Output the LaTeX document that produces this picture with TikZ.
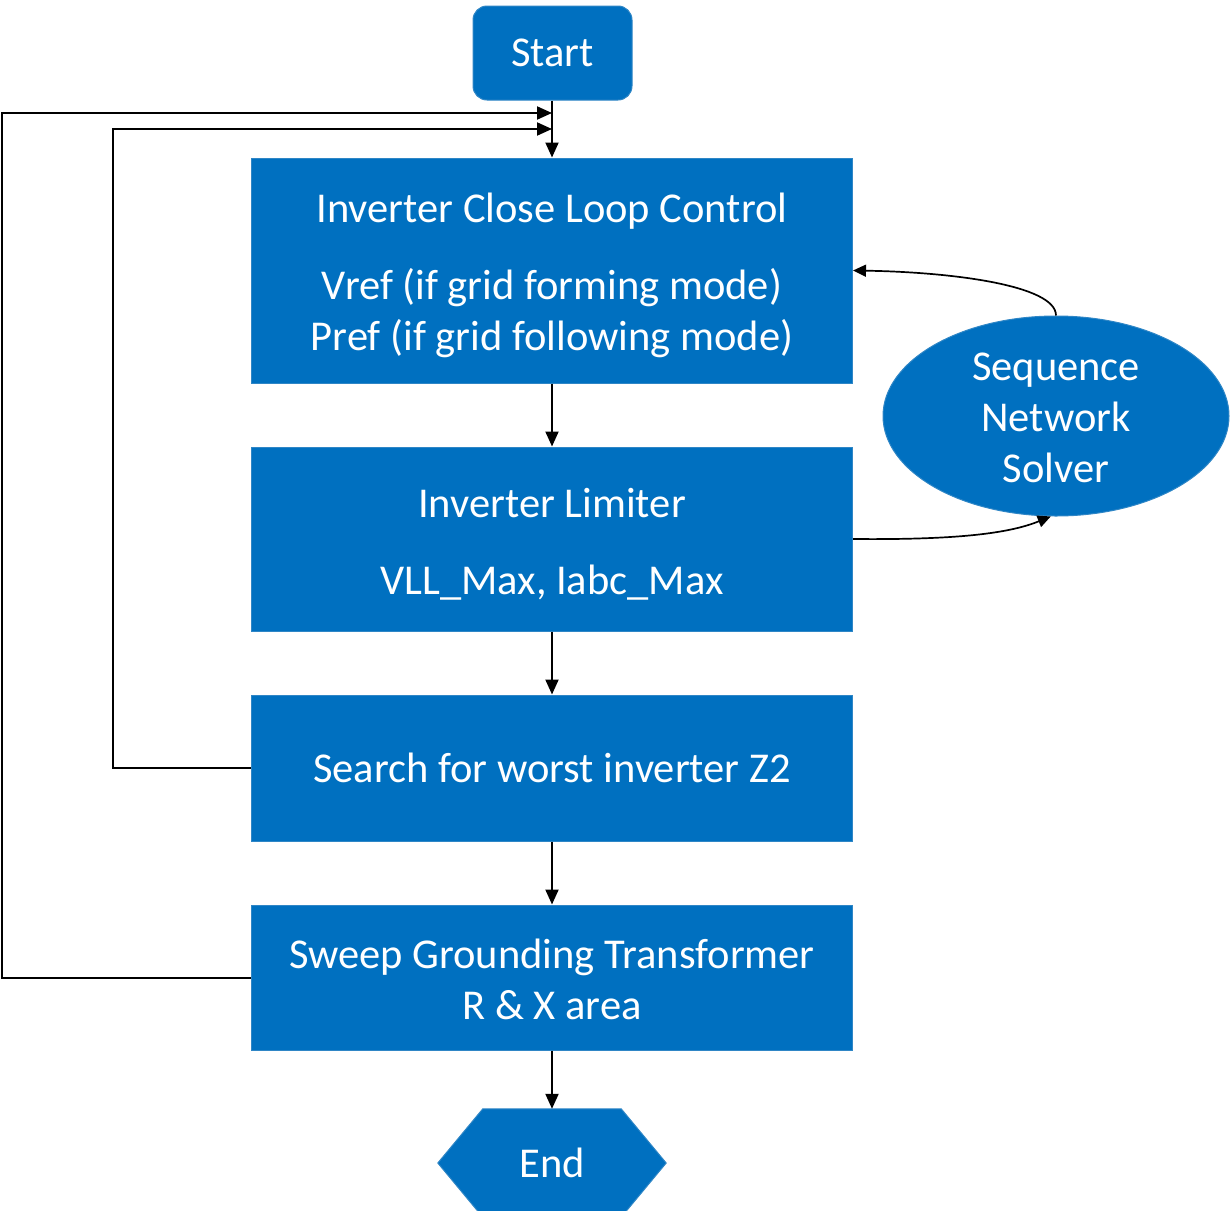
\documentclass[tikz,border=0pt]{standalone}
\usepackage{fontspec}
\setmainfont{Carlito}
\usetikzlibrary{arrows.meta,shapes.geometric,backgrounds}
\definecolor{boxblue}{HTML}{0070C0}
\definecolor{edgeblue}{HTML}{2F86C6}
\begin{document}
\begin{tikzpicture}[x=1pt,y=-1pt,
  every node/.style={font=\fontsize{42.5}{51}\selectfont, text=white, align=center, inner sep=0pt},
  procbox/.style={rectangle, fill=boxblue, draw=edgeblue, line width=1pt, minimum width=601pt},
  conn/.style={line width=2pt, draw=black, -{Triangle[length=15pt,width=13pt]}},
  curv/.style={line width=1.7pt, draw=black, -{Triangle[length=13pt,width=12pt]}}]
\useasboundingbox (0,0) rectangle (1230,1210);
\node[procbox, rounded corners=14pt, minimum width=159pt, minimum height=94pt] (start) at (552.5,53) {Start};
\node[procbox, minimum height=225pt] (ctrl) at (552,270.5) {};
\node (ctrltext) at (552,275.5) {Inverter Close Loop Control\\[26pt]Vref (if grid forming mode)\\Pref (if grid following mode)};
\node[procbox, minimum height=184pt] (lim) at (552,539) {};
\node (limtext) at (552,544) {Inverter Limiter\\[26pt]VLL\_Max, Iabc\_Max};
\node[procbox, minimum height=146pt] (search) at (552,768) {Search for worst inverter Z2};
\node[procbox, minimum height=145pt] (sweep) at (552,977.5) {};
\node (sweeptext) at (552,979.5) {Sweep Grounding Transformer\\R \& X area};
\node[ellipse, fill=boxblue, draw=edgeblue, line width=1pt, minimum width=346pt, minimum height=200pt] (seq) at (1056,416) {};
\node (seqtext) at (1056,417.5) {Sequence\\Network\\Solver};
\node[minimum width=228pt, minimum height=108pt] (end) at (552,1163) {End};
\begin{scope}[on background layer]
\fill[boxblue, draw=edgeblue, line width=1pt] (end.west) -- ([xshift=45pt]end.north west) -- ([xshift=-45pt]end.north east) -- (end.east) -- ([xshift=-45pt]end.south east) -- ([xshift=45pt]end.south west) -- cycle;
\end{scope}
\coordinate (in1) at (552,113);
\coordinate (in2) at (552,129);
\draw[conn] (start.south -| ctrl.north) -- (ctrl.north);
\draw[conn] (ctrl.south) -- (lim.north);
\draw[conn] (lim.south) -- (search.north);
\draw[conn] (search.south) -- (sweep.north);
\draw[conn] (sweep.south) -- (end.north);
\draw[conn] (sweep.west) -| (1.5,113) -- (in1);
\draw[conn] (search.west) -| (113,129) -- (in2);
\draw[curv] (seq.north) .. controls (1056,285) and (950,272) .. (ctrl.east);
\draw[curv] (lim.east) .. controls (960,540) and (1010,533) .. (seq.267);
\end{tikzpicture}
\end{document}
